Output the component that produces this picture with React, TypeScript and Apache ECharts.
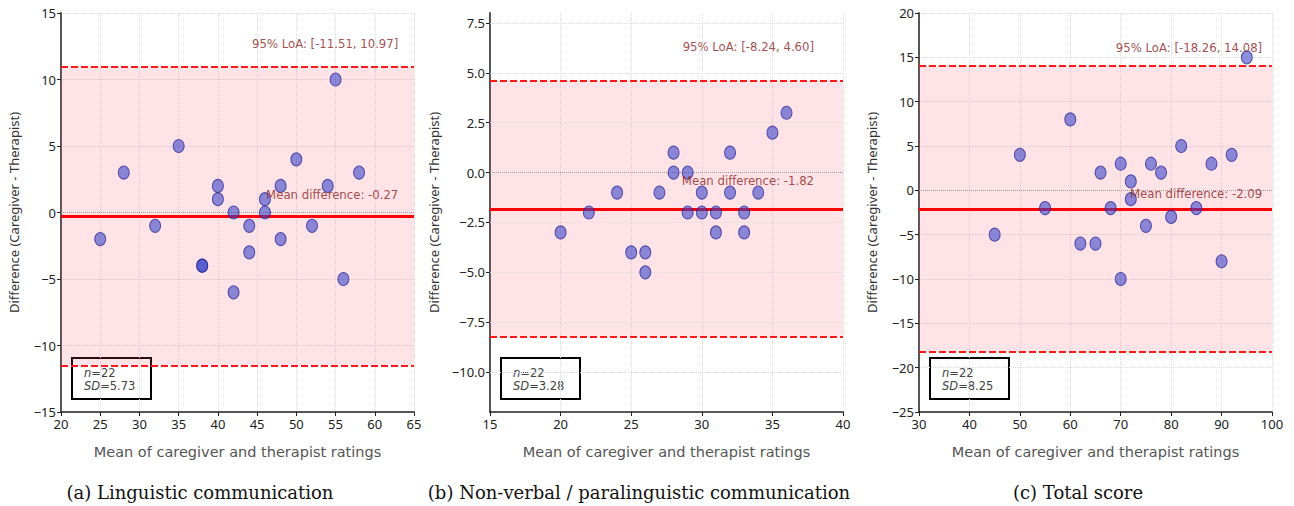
import React, { useEffect, useRef } from "react";
import * as echarts from "echarts";

// ---------- data ----------
const A_X = [25, 28, 32, 35, 38, 38, 40, 40, 42, 42, 44, 44, 46, 46, 48, 48, 50, 52, 54, 55, 56, 58];
const A_Y = [-2, 3, -1, 5, -4, -4, 2, 1, 0, -6, -1, -3, 1, 0, 2, -2, 4, -1, 2, 10, -5, 3];

const B_X = [20, 22, 24, 25, 26, 26, 27, 28, 28, 29, 29, 30, 30, 31, 31, 32, 32, 33, 33, 34, 35, 36];
const B_Y = [-3, -2, -1, -4, -4, -5, -1, 1, 0, 0, -2, -1, -2, -2, -3, 1, -1, -2, -3, -1, 2, 3];

const C_X = [45, 50, 55, 60, 62, 65, 66, 68, 70, 70, 72, 72, 75, 76, 78, 80, 82, 85, 88, 90, 92, 95];
const C_Y = [-5, 4, -2, 8, -6, -6, 2, -2, 3, -10, 1, -1, -4, 3, 2, -3, 5, -2, 3, -8, 4, 15];

const MEAN_DIFF = [-0.27, -1.82, -2.09];
const LOA_LOWER = [-11.51, -8.24, -18.26];
const LOA_UPPER = [10.97, 4.6, 14.08];
const SD = [5.73, 3.28, 8.25];
const N = [22, 22, 22];

const X_MIN = [20, 15, 30];
const X_MAX = [65, 40, 100];
const X_INT = [5, 5, 10];
const Y_MIN = [-15, -12, -25];
const Y_MAX = [15, 8, 20];
const Y_TICKS_A = [-15, -10, -5, 0, 5, 10, 15];
const Y_TICKS_B = [-10, -7.5, -5, -2.5, 0, 2.5, 5, 7.5];
const Y_TICKS_C = [-25, -20, -15, -10, -5, 0, 5, 10, 15, 20];
const Y_DECIMALS = [0, 1, 0];

// annotation anchor points (right edge, vertical centre) in data units
const LOA_TEXT_POS = [[63, 12.74], [37.95, 6.31], [98.05, 16.09]];
const MEAN_TEXT_POS = [[63, 1.32], [37.95, -0.4], [98.05, -0.33]];

const CAPTIONS = [
  "(a) Linguistic communication",
  "(b) Non-verbal / paralinguistic communication",
  "(c) Total score",
];
const X_NAME = "Mean of caregiver and therapist ratings";
const Y_NAME = "Difference (Caregiver - Therapist)";

// ---------- layout ----------
const GRID_LEFT = [61, 490, 919];
const GRID_TOP = 13;
const GRID_W = 353;
const GRID_H = 399;
const Y_NAME_GAP = [41, 50, 41];
const CAPTION_X = [200, 639, 1078];

const minus = (s: string) => s.replace(/-/g, "\u2212");

export default function App() {
  const ref = useRef<HTMLDivElement>(null);

  useEffect(() => {
    if (!ref.current) return;
    const chart = echarts.init(ref.current, null, { renderer: "svg" });

    const xs = [A_X, B_X, C_X];
    const ys = [A_Y, B_Y, C_Y];
    const yTicks = [Y_TICKS_A, Y_TICKS_B, Y_TICKS_C];

    const grid: any[] = [];
    const xAxis: any[] = [];
    const yAxis: any[] = [];
    const series: any[] = [];
    const graphic: any[] = [];

    const tickFont = { color: "#222", fontSize: 13, fontFamily: "Noto Sans" };
    const gridLine = { color: "#dcdcdc", type: "dotted", width: 1 };
    const annColor = "#8e2020";
    const annFont = "'DejaVu Sans Condensed', 'Liberation Sans Narrow', Roboto";

    for (let i = 0; i < 3; i++) {
      grid.push({ left: GRID_LEFT[i], top: GRID_TOP, width: GRID_W, height: GRID_H, containLabel: false });

      xAxis.push({
        type: "value",
        gridIndex: i,
        min: X_MIN[i],
        max: X_MAX[i],
        interval: X_INT[i],
        name: X_NAME,
        nameLocation: "middle",
        nameGap: 32,
        nameTextStyle: { color: "#555", fontSize: 14.5, fontFamily: "DejaVu Sans" },
        axisLine: { show: true, onZero: false, lineStyle: { color: "#222", width: 1.5 } },
        axisTick: { show: true, length: 4, lineStyle: { color: "#222", width: 1 } },
        axisLabel: { ...tickFont, margin: 5 },
        splitLine: { show: true, lineStyle: gridLine },
      });

      const dec = Y_DECIMALS[i];
      const useCustom = i === 1;
      yAxis.push({
        type: "value",
        gridIndex: i,
        min: Y_MIN[i],
        max: Y_MAX[i],
        ...(useCustom ? {} : { interval: 5 }),
        name: Y_NAME,
        nameLocation: "middle",
        nameGap: Y_NAME_GAP[i],
        nameTextStyle: { color: "#333", fontSize: 13, fontFamily: "Noto Sans" },
        axisLine: { show: true, onZero: false, lineStyle: { color: "#555", width: 2 } },
        axisTick: {
          show: true,
          length: 4,
          lineStyle: { color: "#222", width: 1 },
          ...(useCustom ? { customValues: yTicks[i] } : {}),
        },
        axisLabel: {
          ...tickFont,
          margin: 5,
          formatter: (v: number) => minus(v.toFixed(dec)),
          ...(useCustom ? { customValues: yTicks[i] } : {}),
        },
        splitLine: { show: !useCustom, lineStyle: gridLine },
      });

      // band + reference lines
      const refLines: any[] = [
        { yAxis: 0, lineStyle: { color: "#999", type: "dotted", width: 1 } },
        { yAxis: LOA_UPPER[i], lineStyle: { color: "#ff1a1a", type: [7, 3], width: 2 } },
        { yAxis: LOA_LOWER[i], lineStyle: { color: "#ff1a1a", type: [7, 3], width: 2 } },
        { yAxis: MEAN_DIFF[i], lineStyle: { color: "#ff0000", type: "solid", width: 3 } },
      ];
      if (useCustom) {
        yTicks[i].forEach((t) => {
          if (t !== 0) refLines.unshift({ yAxis: t, lineStyle: { ...gridLine } });
        });
      }
      series.push({
        type: "line",
        xAxisIndex: i,
        yAxisIndex: i,
        data: [],
        silent: true,
        z: 1,
        markArea: {
          silent: true,
          itemStyle: { color: "rgba(255,90,110,0.17)" },
          data: [[{ yAxis: LOA_LOWER[i] }, { yAxis: LOA_UPPER[i] }]],
        },
        markLine: {
          silent: true,
          symbol: "none",
          label: { show: false },
          data: refLines,
        },
      });

      // points
      series.push({
        type: "scatter",
        xAxisIndex: i,
        yAxisIndex: i,
        z: 5,
        symbol: "circle",
        symbolSize: [11, 13],
        itemStyle: {
          color: "rgba(55,65,200,0.58)",
          borderColor: "rgba(40,40,150,0.75)",
          borderWidth: 1,
          opacity: 1,
        },
        data: xs[i].map((x, k) => [x, ys[i][k]]),
      });

      // annotation texts
      series.push({
        type: "scatter",
        xAxisIndex: i,
        yAxisIndex: i,
        z: 6,
        silent: true,
        symbolSize: 1,
        itemStyle: { color: "rgba(0,0,0,0)" },
        label: {
          show: true,
          position: "inside",
          align: "right",
          verticalAlign: "middle",
          color: annColor,
          fontSize: 13,
          fontFamily: annFont,
          formatter: (p: any) => p.data[2],
        },
        data: [
          [LOA_TEXT_POS[i][0], LOA_TEXT_POS[i][1], `95% LoA: [${LOA_LOWER[i].toFixed(2)}, ${LOA_UPPER[i].toFixed(2)}]`],
          [MEAN_TEXT_POS[i][0], MEAN_TEXT_POS[i][1], `Mean difference: ${MEAN_DIFF[i].toFixed(2)}`],
        ],
      });

      // stats box
      const bx = GRID_LEFT[i] + 11;
      const by = GRID_TOP + GRID_H - 54;
      graphic.push({
        type: "group",
        z: 100,
        children: [
          {
            type: "rect",
            shape: { x: bx, y: by, width: 79, height: 41 },
            style: { fill: "#fff", stroke: "#000", lineWidth: 2 },
          },
          {
            type: "text",
            x: bx + 12,
            y: by + 8,
            style: {
              text: `{i|n}=${N[i]}\n{i|SD}=${SD[i].toFixed(2)}`,
              fill: "#444",
              fontSize: 11.5,
              fontFamily: "DejaVu Sans",
              lineHeight: 13,
              verticalAlign: "top",
              rich: {
                i: { fontStyle: "italic", fontSize: 11.5, fontFamily: "DejaVu Sans", fill: "#444", lineHeight: 13 } as any,
              },
            },
          },
        ],
      });

      graphic.push({
        type: "text",
        x: CAPTION_X[i],
        y: 492,
        style: {
          text: CAPTIONS[i],
          fill: "#111",
          fontSize: 18,
          fontFamily: "DejaVu Serif",
          align: "center",
          verticalAlign: "middle",
        },
      });
    }

    chart.setOption({
      animation: false,
      backgroundColor: "#fff",
      grid,
      xAxis,
      yAxis,
      series,
      graphic,
    });

    return () => chart.dispose();
  }, []);

  return (
    <div
      ref={ref}
      style={{ position: "absolute", left: 0, top: 0, width: 1294, height: 506 }}
    />
  );
}
